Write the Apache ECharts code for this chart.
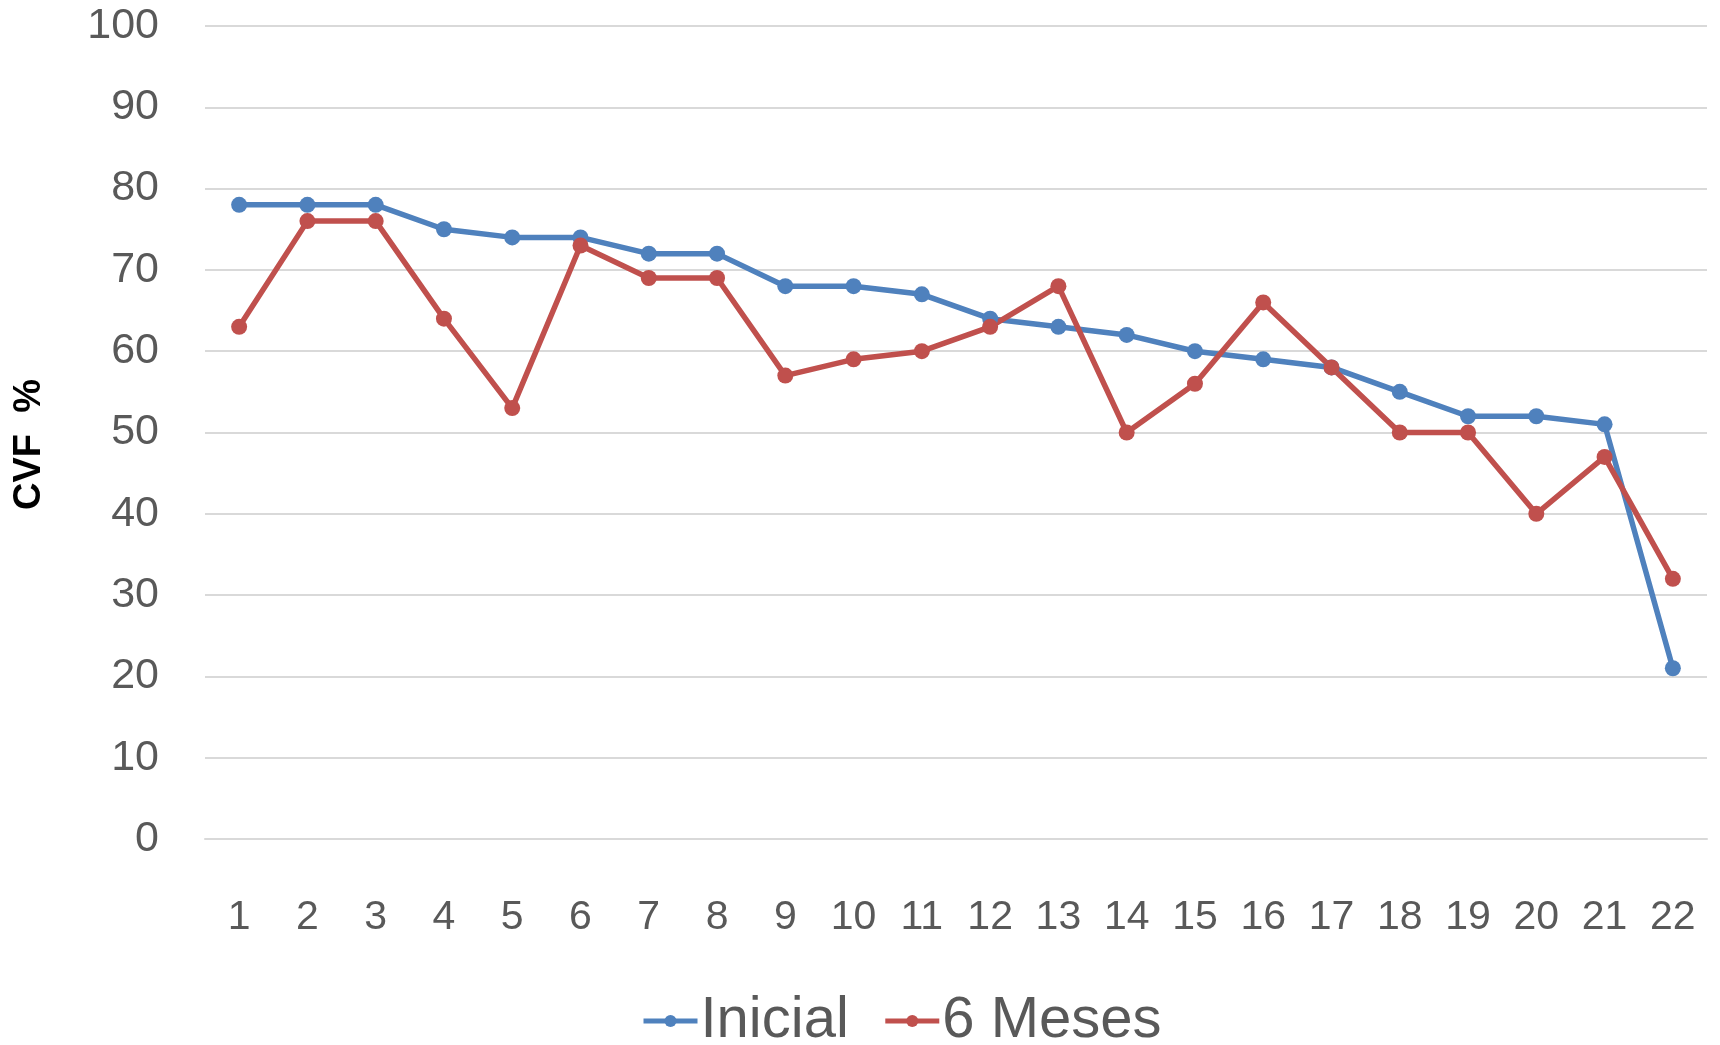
<!DOCTYPE html>
<html>
<head>
<meta charset="utf-8">
<script src="https://cdn.jsdelivr.net/npm/echarts@6/dist/echarts.min.js"></script>
<style>
  html, body { margin: 0; padding: 0; background: #ffffff; }
  #chart { width: 1720px; height: 1045px; }
</style>
</head>
<body>
<div id="chart"></div>
<script>
// Patients 1..22, CVF % at baseline and after six months
const categories = ['1','2','3','4','5','6','7','8','9','10','11','12','13','14','15','16','17','18','19','20','21','22'];
const inicial = [78, 78, 78, 75, 74, 74, 72, 72, 68, 68, 67, 64, 63, 62, 60, 59, 58, 55, 52, 52, 51, 21];
const seisMeses = [63, 76, 76, 64, 53, 73, 69, 69, 57, 59, 60, 63, 68, 50, 56, 66, 58, 50, 50, 40, 47, 32];
const seriesNames = ['Inicial', '6 Meses'];
const yAxisTitle = 'CVF  %';

const FONT = 'Liberation Sans';
const chart = echarts.init(document.getElementById('chart'), null, { renderer: 'canvas' });

const lineSeries = (name, data, color) => ({
  name: name,
  type: 'line',
  data: data,
  symbol: 'circle',
  symbolSize: 16,
  showSymbol: true,
  lineStyle: { color: color, width: 5.5 },
  itemStyle: { color: color },
  emphasis: { disabled: true },
  animation: false
});

chart.setOption({
  animation: false,
  grid: { left: 205, right: 13, top: 26, bottom: 206, outerBoundsMode: 'none', containLabel: false },
  xAxis: {
    type: 'category',
    data: categories,
    boundaryGap: true,
    axisLine: { show: true, lineStyle: { color: '#D9D9D9', width: 2 } },
    axisTick: { show: false },
    axisLabel: { color: '#595959', fontFamily: FONT, fontSize: 41, margin: 58 }
  },
  yAxis: {
    type: 'value',
    min: 0,
    max: 100,
    interval: 10,
    name: yAxisTitle,
    nameLocation: 'middle',
    nameGap: 156,
    nameMoveOverlap: false,
    nameRotate: 90,
    nameTextStyle: { color: '#000000', fontFamily: FONT, fontSize: 38, fontWeight: 'bold', padding: [0, 24, 0, 0] },
    axisLine: { show: false },
    axisTick: { show: false },
    axisLabel: { color: '#595959', fontFamily: FONT, fontSize: 43, margin: 46 },
    splitLine: { show: true, lineStyle: { color: '#D9D9D9', width: 2 } }
  },
  legend: {
    data: seriesNames,
    left: 636,
    bottom: -10,
    itemWidth: 54,
    itemHeight: 15,
    itemGap: 34,
    lineStyle: { width: 5 },
    textStyle: { color: '#595959', fontFamily: FONT, fontSize: 58, padding: [0, 0, 0, -2] }
  },
  series: [
    lineSeries(seriesNames[0], inicial, '#4F81BD'),
    lineSeries(seriesNames[1], seisMeses, '#C0504D')
  ]
});
</script>
</body>
</html>
